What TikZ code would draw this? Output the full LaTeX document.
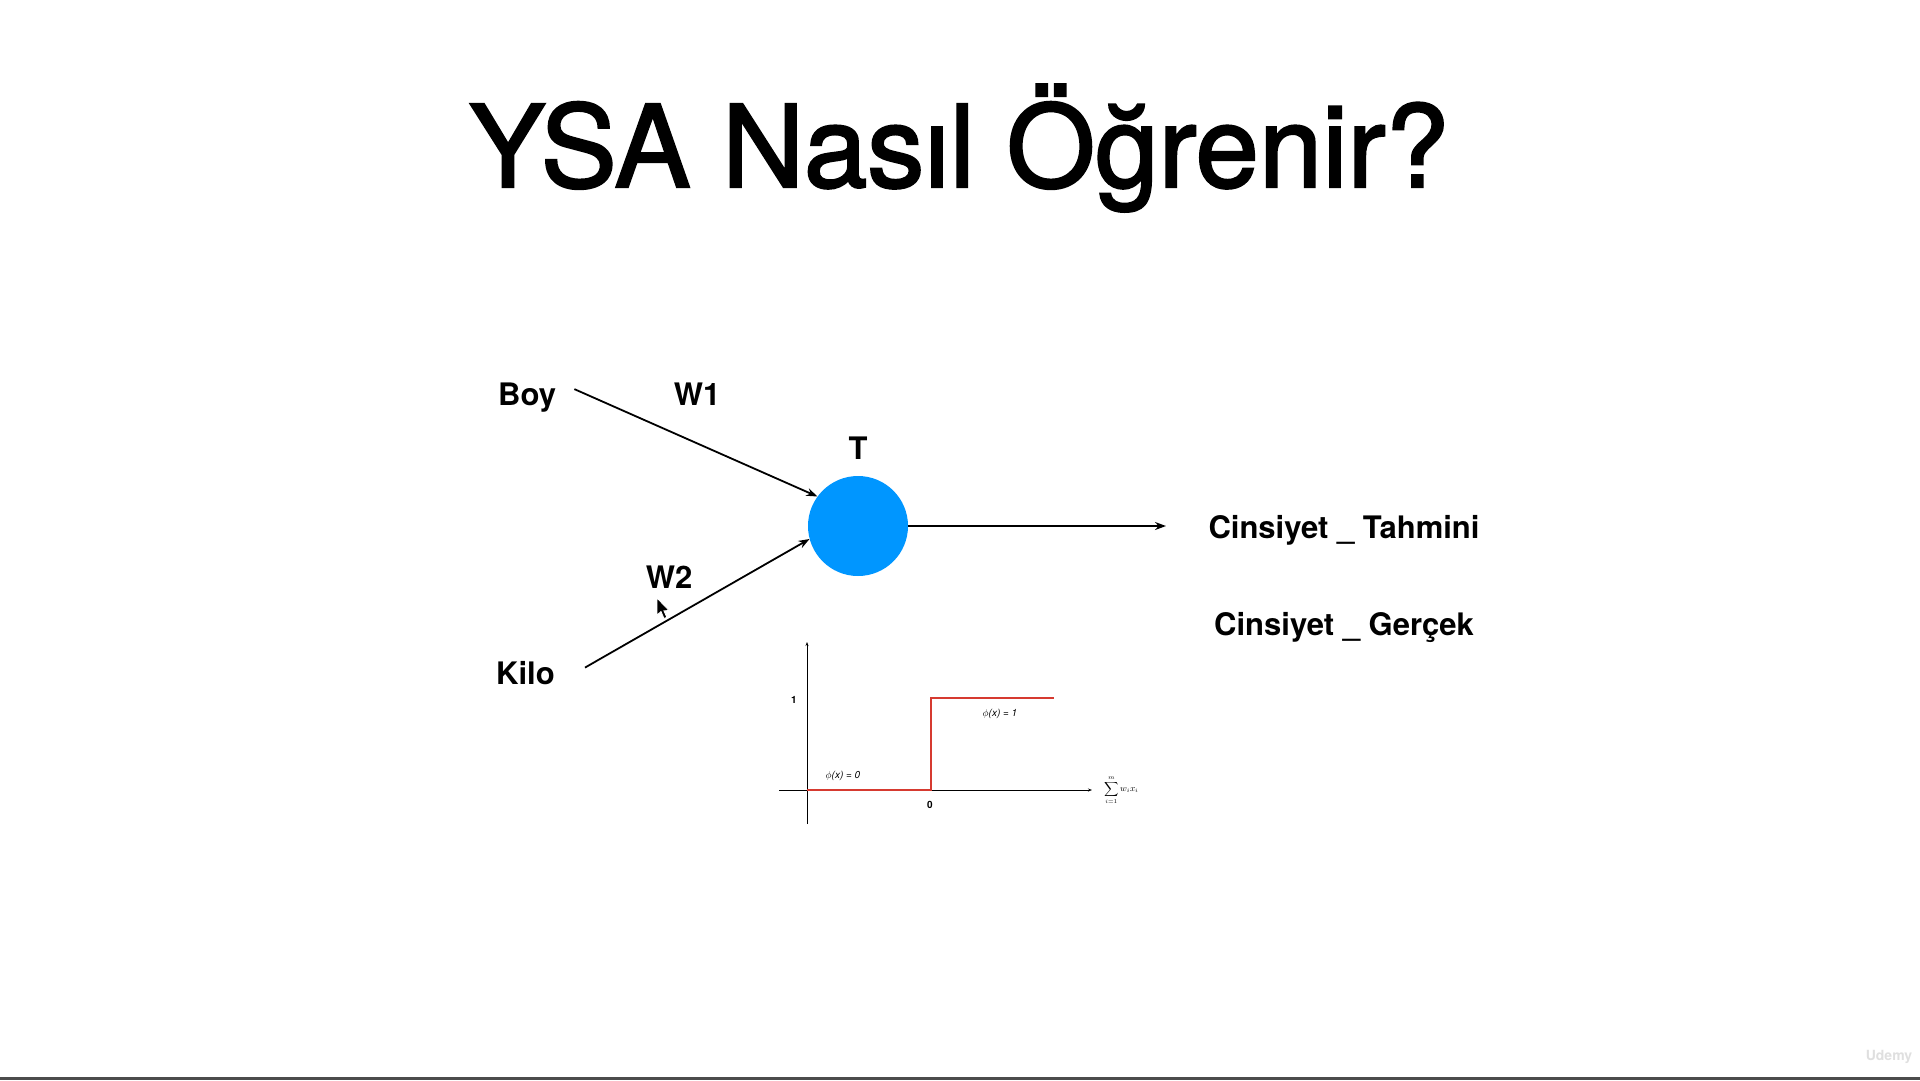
\documentclass[tikz,border=0pt]{standalone}
\usepackage{fontspec}
\setmainfont{TeX Gyre Heros}
\newfontfamily\titlefont{TeX Gyre Heros}[FakeBold=2]
\usetikzlibrary{calc,positioning,arrows.meta}
\definecolor{neuronblue}{RGB}{0,150,255}
\definecolor{stepred}{RGB}{214,58,48}

\begin{document}
\begin{tikzpicture}[x=1pt,y=-1pt,
  lbl/.style={font=\fontsize{31}{31}\selectfont\bfseries,inner sep=0pt},
  wire/.style={line width=1.8pt,-{Stealth[length=11pt,width=8pt]}},
  axis/.style={line width=0.7pt,-{Stealth[length=4pt,width=3pt]}},
  tiny/.style={font=\fontsize{10}{10}\selectfont,inner sep=0pt}]

\useasboundingbox[fill=white] (0,0) rectangle (1920,1080);

\node[font=\titlefont\fontsize{114}{114}\selectfont,anchor=base] (title) at (959,187) {YSA Nasıl Öğrenir?};

% inputs and weights
\node[lbl,anchor=base west] (boy) at (498,405) {Boy};
\node[lbl,anchor=base west] (kilo) at (496,684) {Kilo};
\node[lbl] (w1) at (697,394) {W1};
\node[lbl] (w2) at (669,577) {W2};

% neuron
\node[circle,fill=neuronblue,minimum size=100pt,inner sep=0pt] (neuron) at (858,526) {};
\node[lbl] (t) at (858,448) {T};

\draw[wire] ([xshift=18pt,yshift=8pt]boy.east) -- (neuron.144);
\draw[wire] ([xshift=30pt,yshift=5pt]kilo.east) -- (neuron.195);

\coordinate (out) at (1166,526);
\draw[wire] (neuron.east) -- (out);

\node[lbl,anchor=base] (tahmin) at (1344,538) {Cinsiyet \_ Tahmini};
\node[lbl,anchor=base] (gercek) at (1344,635) {Cinsiyet \_ Gerçek};

% step function
\begin{scope}
\coordinate (o) at (807,790);
\draw[axis] (807,824) -- (807,642);
\draw[axis] (779,790) -- (1092,790);
\draw[stepred,line width=2pt] (o) -- (931,790) -- (931,698) -- (1054,698);
\node[tiny,font=\fontsize{10}{10}\selectfont\bfseries] (one) at (794,700) {1};
\node[tiny,font=\fontsize{10}{10}\selectfont\bfseries] (zero) at (930,805) {0};
\node[tiny,font=\fontsize{10}{10}\selectfont\itshape] (phi0) at (843,776) {$\phi$(x) = 0};
\node[tiny,font=\fontsize{10}{10}\selectfont\itshape] (phi1) at (1000,714) {$\phi$(x) = 1};
\node[tiny,font=\fontsize{9}{9}\selectfont,anchor=west] (sum) at (1104,790) {$\displaystyle\sum_{i=1}^{m} w_i x_i$};
\end{scope}

% mouse pointer
\draw[fill=black,draw=white,line width=0.8pt,shift={(657,598)}]
  (0,0) -- (0,17) -- (4,13.5) -- (7,20.5) -- (9.8,19.3) -- (6.9,12.8) -- (12,12.5) -- cycle;

% footer
\node[font=\fontsize{14}{14}\selectfont\bfseries,text=gray!25,inner sep=0pt] (udemy) at (1889,1057) {Udemy};
\fill[gray!60!black] (0,1077) rectangle (1920,1080);

\end{tikzpicture}
\end{document}
